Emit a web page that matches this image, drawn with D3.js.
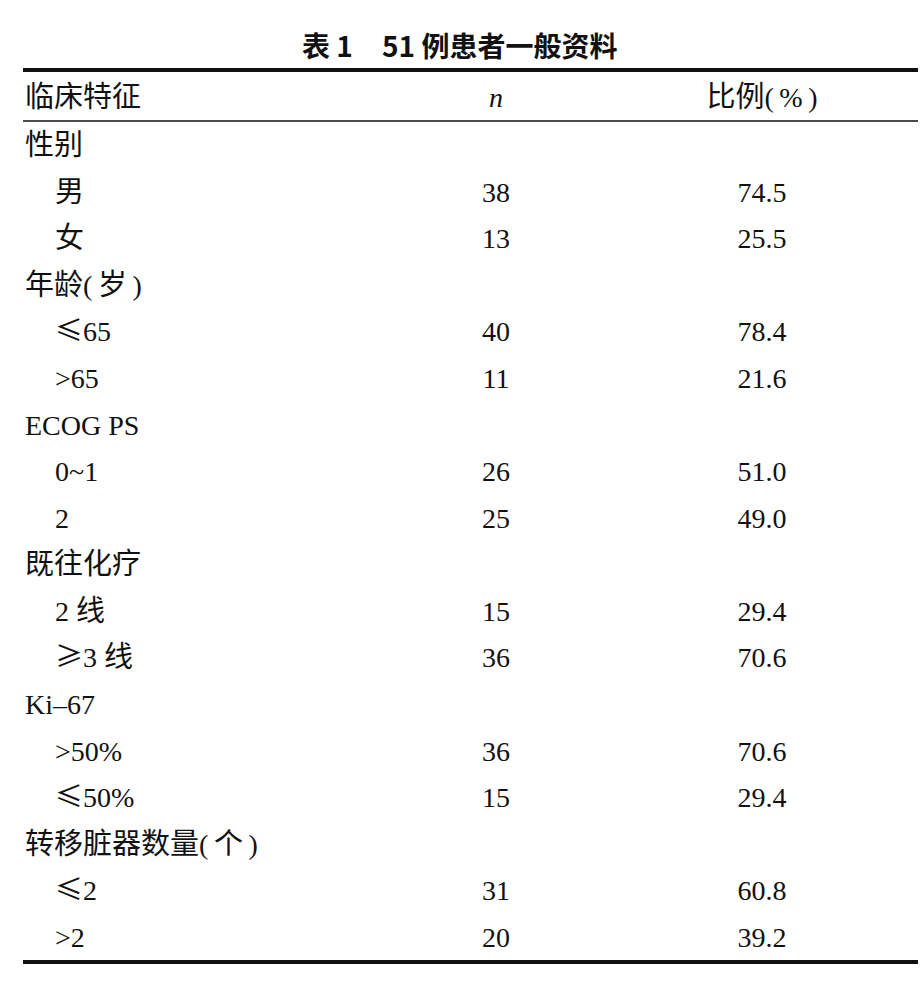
<!DOCTYPE html>
<html><head><meta charset="utf-8">
<script src="https://cdn.jsdelivr.net/npm/d3@7/dist/d3.min.js"></script>
<style>
html,body{margin:0;padding:0;background:#fff;}
svg{display:block;}
</style></head>
<body>
<div id="chart"></div>
<script>
const titleLead = "表 1";
const titleMain = "51 例患者一般资料";
const headers = ["临床特征", "n", "比例(%)"];
const rowLabels = ["性别","男","女","年龄(岁)","≤65",">65","ECOG PS","0~1","2","既往化疗","2 线","≥3 线","Ki–67",">50%","≤50%","转移脏器数量(个)","≤2",">2"];
const rowIndent = [0,1,1,0,1,1,0,1,1,0,1,1,0,1,1,0,1,1];
const nValues   = [null,38,13,null,40,11,null,26,25,null,15,36,null,36,15,null,31,20];
const pctValues = [null,"74.5","25.5",null,"78.4","21.6",null,"51.0","49.0",null,"29.4","70.6",null,"70.6","29.4",null,"60.8","39.2"];

const W = 920, H = 988;
const serif = "'Liberation Serif','Times New Roman',serif";
const cjk = "'Noto Sans CJK SC','Noto Sans CJK JP',sans-serif";
const ink = "#111";

const svg = d3.select("#chart").append("svg").attr("width", W).attr("height", H);

const y = d3.scaleLinear().domain([0, rowLabels.length - 1]).range([155, 947]);
const col = d3.scaleOrdinal().domain(["n", "pct"]).range([496, 762]);
const xLabel = d3.scaleOrdinal().domain([0, 1]).range([25, 55]);

// split a string into runs: CJK chars, math symbols, latin text
function runs(str) {
  const out = [];
  for (const ch of str) {
    let type;
    if (/[\u4e00-\u9fff]/.test(ch)) type = "cjk";
    else if (ch === "≤" || ch === "≥") type = "sym";
    else type = "lat";
    let t = ch;
    if (ch === "(") t = "(\u2009";
    if (ch === ")") t = "\u2009)";
    const last = out[out.length - 1];
    if (last && last.type === type) last.t += t; else out.push({type, t});
  }
  return out;
}
function fillRich(sel, str) {
  sel.selectAll("tspan").data(runs(str)).join("tspan")
    .attr("font-family", d => d.type === "lat" ? serif : cjk)
    .attr("font-size", d => d.type === "cjk" ? 29 : 28)
    .attr("font-weight", d => d.type === "cjk" ? 400 : null)
    .text(d => d.t);
}

// title
const tt = svg.append("text").attr("x", 302).attr("y", 57)
  .attr("font-family", cjk).attr("font-weight", 700).attr("font-size", 28).attr("fill", ink);
tt.append("tspan").text(titleLead);
tt.append("tspan").attr("x", 382).text(titleMain);

// rules
const rules = [{y: 70, w: 4}, {y: 121, w: 1.5}, {y: 962, w: 4}];
svg.selectAll("line.rule").data(rules).join("line").attr("class", "rule")
  .attr("x1", 23).attr("x2", 918).attr("y1", d => d.y).attr("y2", d => d.y)
  .attr("stroke", ink).attr("stroke-width", d => d.w);

// header
const hy = 107;
svg.append("text").attr("x", 25).attr("y", hy).attr("fill", ink)
  .call(s => fillRich(s, headers[0]));
svg.append("text").attr("x", col("n")).attr("y", hy).attr("text-anchor", "middle")
  .attr("font-family", serif).attr("font-style", "italic")
  .attr("font-size", 28).attr("fill", ink).text(headers[1]);
svg.append("text").attr("x", col("pct")).attr("y", hy).attr("text-anchor", "middle")
  .attr("fill", ink).call(s => fillRich(s, headers[2]));

// rows
const rows = rowLabels.map((l, i) => ({l, i, ind: rowIndent[i], n: nValues[i], p: pctValues[i]}));
const g = svg.append("g");
g.selectAll("text.lab").data(rows).join("text").attr("class", "lab")
  .attr("x", d => xLabel(d.ind)).attr("y", d => y(d.i)).attr("fill", ink)
  .each(function(d) { fillRich(d3.select(this), d.l); });
g.selectAll("text.n").data(rows.filter(d => d.n != null)).join("text").attr("class", "n")
  .attr("x", col("n")).attr("y", d => y(d.i)).attr("text-anchor", "middle")
  .attr("font-family", serif).attr("font-size", 28).attr("fill", ink)
  .text(d => d.n);
g.selectAll("text.p").data(rows.filter(d => d.p != null)).join("text").attr("class", "p")
  .attr("x", col("pct")).attr("y", d => y(d.i)).attr("text-anchor", "middle")
  .attr("font-family", serif).attr("font-size", 28).attr("fill", ink)
  .text(d => d.p);
</script>
</body></html>
